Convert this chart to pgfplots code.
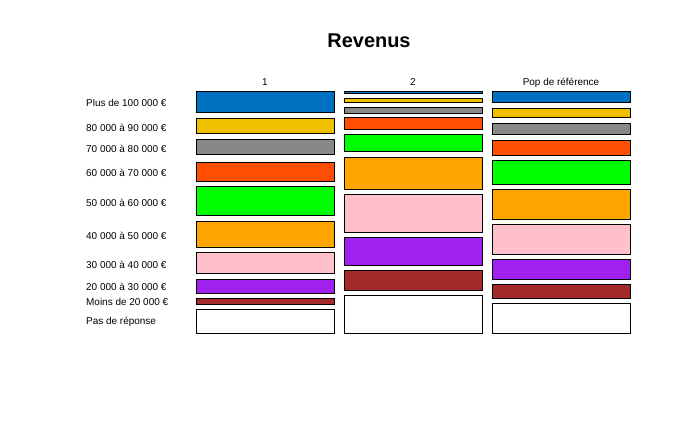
\documentclass[border=0pt]{standalone}
\usepackage{pgfplots}
\pgfplotsset{compat=1.18}
\usepackage{fontspec}
\setmainfont{Liberation Sans}
\definecolor{cblue}{HTML}{0070C0}
\definecolor{cyellow}{HTML}{F0C000}
\definecolor{cgray}{HTML}{888888}
\definecolor{cred}{HTML}{FF4F05}
\definecolor{cgreen}{HTML}{00FF00}
\definecolor{corange}{HTML}{FFA500}
\definecolor{cpink}{HTML}{FFC0CB}
\definecolor{cpurple}{HTML}{A020F0}
\definecolor{cbrown}{HTML}{A52A2A}
\newcommand{\seg}[5]{\addplot[fill=#1, draw=black, line width=1bp] coordinates {(#2,#4) (#3,#4) (#3,#5) (#2,#5)} -- cycle;}
\begin{document}
\begin{tikzpicture}
\useasboundingbox (0,0) rectangle (700bp,432bp);
\begin{axis}[
  at={(0,0)}, anchor=south west,
  scale only axis, width=700bp, height=432bp,
  xmin=0, xmax=700, ymin=0, ymax=432, y dir=reverse,
  hide axis, clip=false,
  every node/.style={font=\fontsize{11}{13}\selectfont},
]
% Column 1
\seg{cblue}{196}{334}{92}{113}
\seg{cyellow}{196}{334}{118.5}{134}
\seg{cgray}{196}{334}{139.5}{155}
\seg{cred}{196}{334}{163}{181.5}
\seg{cgreen}{196}{334}{186.5}{215.5}
\seg{corange}{196}{334}{221.5}{247}
\seg{cpink}{196}{334}{252.5}{273.5}
\seg{cpurple}{196}{334}{279.5}{293}
\seg{cbrown}{196}{334}{298.5}{304}
\seg{white}{196}{334}{309.5}{333}
% Column 2
\seg{cblue}{344}{482}{91.5}{93.5}
\seg{cyellow}{344}{482}{98.5}{102.5}
\seg{cgray}{344}{482}{107.5}{113.5}
\seg{cred}{344}{482}{117.5}{130}
\seg{cgreen}{344}{482}{134.5}{152}
\seg{corange}{344}{482}{157.5}{189}
\seg{cpink}{344}{482}{194.5}{232}
\seg{cpurple}{344}{482}{237.5}{265}
\seg{cbrown}{344}{482}{270.5}{290}
\seg{white}{344}{482}{295.5}{333}
% Column 3
\seg{cblue}{492}{630}{91.5}{103}
\seg{cyellow}{492}{630}{109}{118}
\seg{cgray}{492}{630}{123.5}{135}
\seg{cred}{492}{630}{140.5}{156}
\seg{cgreen}{492}{630}{160.5}{184}
\seg{corange}{492}{630}{189.5}{219}
\seg{cpink}{492}{630}{224.5}{254}
\seg{cpurple}{492}{630}{259.5}{279}
\seg{cbrown}{492}{630}{284.5}{298}
\seg{white}{492}{630}{303.5}{333}
% Title and headers
\node[font=\fontsize{20}{24}\selectfont\bfseries] at (axis cs:369,41) {Revenus};
\node at (axis cs:265,82.5) {1};
\node at (axis cs:413,82.5) {2};
\node at (axis cs:561,82.5) {Pop de référence};
% Row labels
\node[anchor=west, inner sep=0pt] at (axis cs:86,103) {Plus de 100 000 €};
\node[anchor=west, inner sep=0pt] at (axis cs:86,127.5) {80 000 à 90 000 €};
\node[anchor=west, inner sep=0pt] at (axis cs:86,148.5) {70 000 à 80 000 €};
\node[anchor=west, inner sep=0pt] at (axis cs:86,173) {60 000 à 70 000 €};
\node[anchor=west, inner sep=0pt] at (axis cs:86,202.5) {50 000 à 60 000 €};
\node[anchor=west, inner sep=0pt] at (axis cs:86,235.5) {40 000 à 50 000 €};
\node[anchor=west, inner sep=0pt] at (axis cs:86,264.5) {30 000 à 40 000 €};
\node[anchor=west, inner sep=0pt] at (axis cs:86,287) {20 000 à 30 000 €};
\node[anchor=west, inner sep=0pt] at (axis cs:86,302) {Moins de 20 000 €};
\node[anchor=west, inner sep=0pt] at (axis cs:86,322) {Pas de réponse};
\end{axis}
\end{tikzpicture}
\end{document}
